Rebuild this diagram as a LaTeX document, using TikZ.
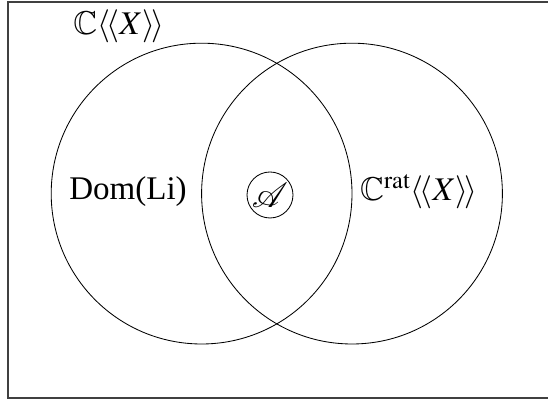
\documentclass[tikz,border=0pt]{standalone}
\usepackage{amsmath,amssymb}
\usepackage{mathptmx}
\usepackage{mathrsfs}
\usepackage{fontspec}
\setmainfont{Liberation Serif}
\usepackage{tikz}
\usetikzlibrary{positioning}
\tikzset{
  frame/.style ={draw=black!75,line width=0.8pt},
  set/.style   ={draw,circle,line width=0.6pt,inner sep=0pt,minimum size=7.52cm},
  elem/.style  ={draw,circle,line width=0.6pt,inner sep=0pt,minimum size=1.15cm},
  lbl/.style   ={font=\fontsize{23.5}{28}\selectfont,inner sep=0pt},
}
\begin{document}
\begin{tikzpicture}
 \useasboundingbox (0,0) rectangle (13.7,10.05);
 \draw[frame] (0.2,0.1) rectangle (13.76,10.0);
 % the two sets
 \node[set] (dom) at (5.04,5.21) {};
 \node[set] (rat) at (8.8,5.21) {};
 \node[elem,lbl] (alg) at (6.75,5.175) {$\mathscr{A}$};
 % labels
 \node[lbl] (all) at (2.975,9.4) {$\mathbb{C}\langle\!\langle X\rangle\!\rangle$};
 \node[lbl] (domlbl) at (3.2,5.25) {Dom(Li)};
 \node[lbl] (ratlbl) at (10.475,5.25) {$\mathbb{C}^{\mathrm{rat}}\langle\!\langle X\rangle\!\rangle$};
\end{tikzpicture}
\end{document}
